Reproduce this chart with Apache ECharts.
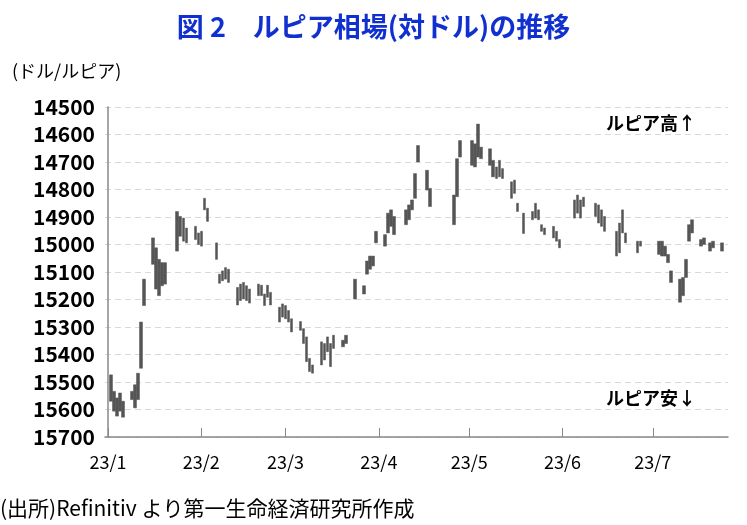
<!DOCTYPE html>
<html>
<head>
<meta charset="utf-8">
<script src="https://cdn.jsdelivr.net/npm/echarts@6/dist/echarts.min.js"></script>
<style>html,body{margin:0;padding:0;background:#fff}#main{width:747px;height:525px}</style>
</head>
<body>
<div id="main"></div>
<script>
var dates = ['01-02','01-03','01-04','01-05','01-06','01-09','01-10','01-11','01-12','01-13',
  '01-16','01-17','01-18','01-19','01-20','01-24','01-25','01-26','01-27','01-30','01-31',
  '02-01','02-02','02-03','02-06','02-07','02-08','02-09','02-10','02-13','02-14','02-15','02-16','02-17',
  '02-20','02-21','02-22','02-23','02-24','02-27','02-28','03-01','03-02','03-03','03-06','03-07','03-08',
  '03-09','03-10','03-13','03-14','03-15','03-16','03-17','03-20','03-21','03-24','03-27','03-28','03-29',
  '03-30','03-31','04-03','04-04','04-05','04-06','04-10','04-11','04-12','04-13','04-14','04-17','04-18',
  '04-26','04-27','04-28','05-02','05-03','05-04','05-05','05-08','05-09','05-10','05-11','05-12',
  '05-15','05-16','05-17','05-19','05-22','05-23','05-24','05-25','05-26','05-29','05-30','05-31',
  '06-05','06-06','06-07','06-08','06-12','06-13','06-14','06-15','06-19','06-20','06-21','06-22',
  '06-26','06-27','07-03','07-04','07-05','07-06','07-07','07-10','07-11','07-12','07-13','07-14',
  '07-17','07-18','07-20','07-21','07-24'];
// stronger rupiah (smaller value)
var lows = [15474,15534,15558,15540,15570,15534,15510,15468,15282,15126,
  14976,15012,15054,15066,15066,14880,14898,14904,14940,14934,14958,
  14952,14832,14868,14994,15108,15096,15084,15090,15156,15144,15138,15150,15162,
  15144,15148,15180,15148,15174,15228,15216,15222,15240,15270,15280,15306,15336,
  15414,15438,15354,15360,15336,15360,15330,15348,15330,15126,15150,15060,15042,
  15042,14952,14964,14886,14874,14898,14874,14856,14838,14742,14640,14730,14796,
  14820,14688,14622,14622,14634,14562,14646,14652,14694,14718,14694,14724,
  14772,14766,14850,14886,14880,14850,14874,14928,14940,14934,14952,14982,
  14838,14820,14838,14828,14850,14856,14874,14898,14952,14922,14874,14958,
  14988,14988,14988,14988,15006,15036,15096,15126,15120,15054,14928,14910,
  14982,14976,14994,14988,14994];
// weaker rupiah (larger value)
var highs = [15570,15606,15624,15606,15628,15564,15594,15564,15450,15222,
  15072,15162,15186,15150,15144,15024,14970,14988,14994,14982,15000,
  15006,14874,14916,15054,15141,15132,15126,15138,15220,15204,15198,15204,15213,
  15186,15186,15222,15192,15220,15282,15264,15270,15282,15318,15312,15360,15426,
  15462,15468,15438,15420,15390,15444,15378,15372,15360,15198,15180,15108,15090,
  15078,14994,15006,14958,14934,14964,14928,14910,14874,14832,14700,14802,14862,
  14928,14826,14682,14712,14718,14682,14688,14712,14754,14760,14754,14760,
  14832,14814,14880,14960,14910,14904,14910,14952,14964,14976,14988,15012,
  14904,14886,14904,14862,14898,14922,14934,14952,15042,15030,14958,14994,
  15030,15006,15036,15042,15042,15066,15138,15210,15186,15120,14988,14958,
  15006,15000,15024,15012,15024];
var monthTicks = ['01-01','02-01','03-01','04-01','05-01','06-01','07-01'];

function dayOf(md) {
  return Math.round((Date.UTC(2023, +md.slice(0, 2) - 1, +md.slice(3)) - Date.UTC(2023, 0, 1)) / 86400000);
}
var data = dates.map(function (d, i) {
  return [dayOf(d), lows[i], highs[i], lows[i], highs[i]];
});
var tickVals = monthTicks.map(dayOf);

var chart = echarts.init(document.getElementById('main'));
var font = '"Noto Sans CJK JP", sans-serif';
chart.setOption({
  animation: false,
  title: {
    text: '図 2　ルピア相場(対ドル)の推移',
    left: 'center', top: 8,
    textStyle: {color: '#1030d0', fontSize: 27, fontWeight: 'bold', fontFamily: font}
  },
  grid: {left: 105, right: 19, top: 107, bottom: 88},
  xAxis: {
    type: 'value', min: -1, max: 206,
    axisLine: {lineStyle: {color: '#888', width: 1.5}},
    axisTick: {show: true, inside: true, length: 9, customValues: tickVals, lineStyle: {color: '#888'}},
    axisLabel: {
      customValues: tickVals, margin: 16,
      color: '#000', fontSize: 18, fontFamily: font,
      formatter: function (v) { return '23/' + (tickVals.indexOf(v) + 1); }
    },
    splitLine: {show: false}
  },
  yAxis: {
    type: 'value', inverse: true, min: 14500, max: 15700, interval: 100,
    axisLine: {show: true, lineStyle: {color: '#888', width: 1.5}},
    axisTick: {show: false},
    axisLabel: {color: '#000', fontSize: 21, fontWeight: 'bold', fontFamily: font, margin: 10,
      formatter: function (v) { return String(v); }},
    splitLine: {lineStyle: {color: '#d9d9d9', type: [6, 4]}}
  },
  series: [{
    type: 'candlestick',
    data: data,
    barWidth: 3,
    itemStyle: {color: '#555', color0: '#555', borderColor: '#555', borderColor0: '#555', borderWidth: 0.5}
  }],
  graphic: [
    {type: 'text', left: 12, top: 62, style: {text: '(ドル/ルピア)', font: '18px ' + font, fill: '#000'}},
    {type: 'text', left: 606, top: 114, style: {text: 'ルピア高↑', font: 'bold 18px ' + font, fill: '#000'}},
    {type: 'text', left: 606, top: 389, style: {text: 'ルピア安↓', font: 'bold 18px ' + font, fill: '#000'}},
    {type: 'text', left: 0, top: 498, style: {text: '(出所)Refinitiv より第一生命経済研究所作成', font: '21px ' + font, fill: '#000'}}
  ]
});
</script>
</body>
</html>
